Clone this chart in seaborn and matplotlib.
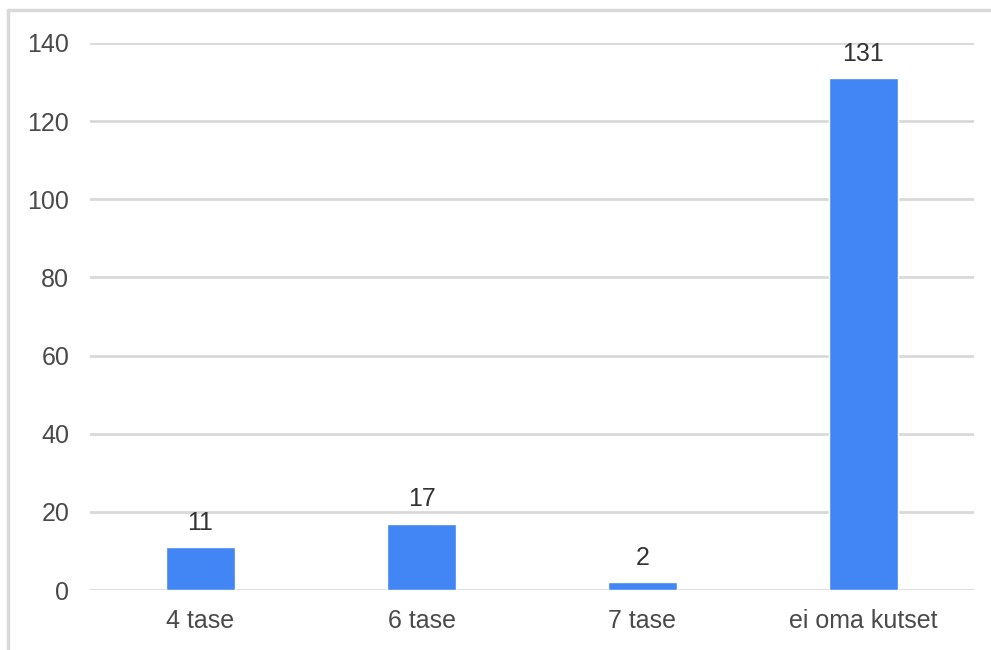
import matplotlib
matplotlib.use("Agg")
import matplotlib.pyplot as plt
import seaborn as sns
import pandas as pd
from matplotlib.lines import Line2D

categories = ["4 tase", "6 tase", "7 tase", "ei oma kutset"]
values = [11, 17, 2, 131]
yticks = [0, 20, 40, 60, 80, 100, 120, 140]

sns.set_theme(style="white")
plt.rcParams['font.family'] = ['Liberation Sans', 'DejaVu Sans']

df = pd.DataFrame({"cat": categories, "val": values})

fig = plt.figure(figsize=(9.91, 6.5), dpi=100)
ax = fig.add_axes([90/991, 1-590/650, (974-90)/991, (590-43)/650])

sns.barplot(data=df, x="cat", y="val", color="#4285F4", width=0.31, saturation=1, ax=ax, zorder=3)

ax.set_xlim(-0.5, 3.5)
ax.set_ylim(0, 140)
ax.set_yticks(yticks)
ax.set_yticklabels([str(t) for t in yticks])
ax.grid(axis="y", color="#d9d9d9", linewidth=2, zorder=0)
ax.set_axisbelow(True)
for s in ax.spines.values():
    s.set_visible(False)
ax.tick_params(axis="both", length=0, labelsize=18, colors="#4a4a4a")
ax.tick_params(axis="y", pad=15)
ax.tick_params(axis="x", pad=14)
ax.set_xlabel("")
ax.set_ylabel("")

for c in ax.containers:
    ax.bar_label(c, labels=[str(v) for v in values], padding=9, fontsize=18, color="#333333")

# outer frame (top and left)
fig.add_artist(Line2D([8/991, 1], [1-10/650, 1-10/650], transform=fig.transFigure, color="#d9d9d9", linewidth=2.5))
fig.add_artist(Line2D([8/991, 8/991], [0, 1-10/650], transform=fig.transFigure, color="#d9d9d9", linewidth=2.5))

fig.savefig("out.png", dpi=100, facecolor="white")
